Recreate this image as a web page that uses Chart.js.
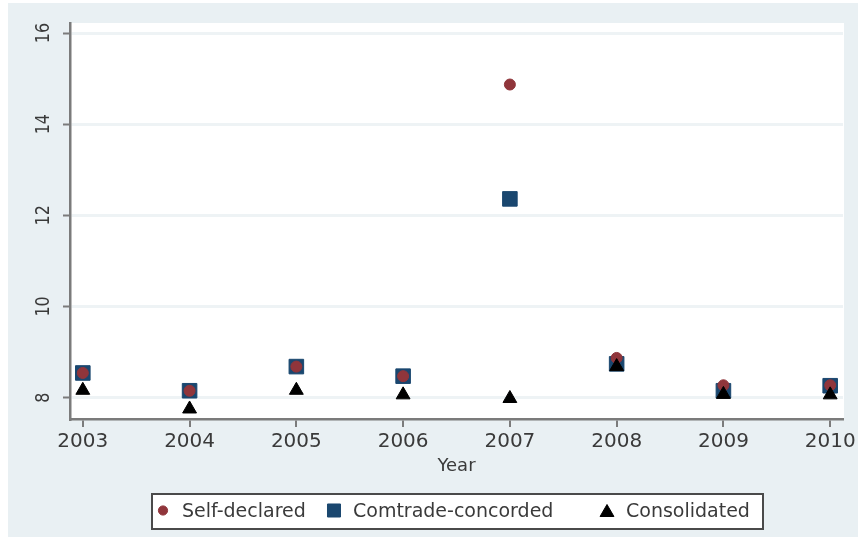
<!DOCTYPE html>
<html>
<head>
<meta charset="utf-8">
<script src="https://cdn.jsdelivr.net/npm/chart.js@4/dist/chart.umd.min.js"></script>
<style>
  html, body { margin: 0; padding: 0; background: #ffffff; }
  #wrap { width: 858px; height: 537px; position: relative; }
</style>
</head>
<body>
<div id="wrap"><canvas id="chart" width="858" height="537"></canvas></div>
<script>
// Years on the horizontal axis
const years = [2003, 2004, 2005, 2006, 2007, 2008, 2009, 2010];

// Average tariff by source
const selfDeclared      = [8.54, 8.15, 8.68, 8.47, 14.87, 8.87, 8.27, 8.27];
const comtradeConcorded = [8.54, 8.15, 8.68, 8.47, 12.36, 8.74, 8.15, 8.26];
const consolidated      = [8.16, 7.75, 8.16, 8.06, 7.98, 8.68, 8.07, 8.06];

// Labelled values on the vertical axis
const yTicks = [8, 10, 12, 14, 16];

const seriesLabels = ['Self-declared', 'Comtrade-concorded', 'Consolidated'];

const RED = '#90353b';
const NAVY = '#1a476f';
const TEXT = '#3a3a3a';
const AXIS = '#7b7b7b';
const FONT = '"DejaVu Sans", sans-serif';

const toPoints = vals => years.map((yr, i) => ({ x: yr, y: vals[i] }));

// Background panels, rotated y labels and the framed legend
const stataLook = {
  id: 'stataLook',
  beforeDraw(chart) {
    const { ctx, chartArea: a } = chart;
    ctx.save();
    ctx.fillStyle = '#e9f0f3';
    ctx.fillRect(8, 3, chart.width - 8, chart.height - 3);
    ctx.fillStyle = '#ffffff';
    ctx.fillRect(a.left, a.top, a.right - a.left + 1, a.bottom - a.top);
    ctx.restore();
  },
  afterDraw(chart) {
    const { ctx } = chart;
    const yScale = chart.scales.y;

    // y tick labels, read bottom to top
    ctx.save();
    ctx.fillStyle = TEXT;
    ctx.font = '20px ' + FONT;
    ctx.textAlign = 'center';
    ctx.textBaseline = 'middle';
    yScale.ticks.forEach(t => {
      const py = yScale.getPixelForValue(t.value);
      ctx.save();
      ctx.translate(44, py);
      ctx.rotate(-Math.PI / 2);
      ctx.scale(0.8, 1);
      ctx.fillText(String(t.value), 0, 0);
      ctx.restore();
    });
    ctx.restore();

    // legend frame
    const box = { left: 152, top: 494, right: 763, bottom: 529 };
    ctx.save();
    ctx.fillStyle = '#ffffff';
    ctx.fillRect(box.left, box.top, box.right - box.left, box.bottom - box.top);
    ctx.strokeStyle = '#4a4a4a';
    ctx.lineWidth = 2;
    ctx.strokeRect(box.left, box.top, box.right - box.left, box.bottom - box.top);

    const midY = (box.top + box.bottom) / 2;
    const markerX = [163, 334, 607];
    const legendStyles = [
      { style: 'circle', radius: 4.6, color: RED },
      { style: 'rect', radius: 9.2, color: NAVY },
      { style: 'triangle', radius: 8, color: '#000000' }
    ];
    chart.data.datasets.forEach((ds, i) => {
      const s = legendStyles[i];
      ctx.fillStyle = s.color;
      ctx.strokeStyle = s.color;
      ctx.lineWidth = 1;
      Chart.helpers.drawPoint(ctx, { pointStyle: s.style, radius: s.radius, borderWidth: 1 },
        markerX[i], s.style === 'triangle' ? midY + 1 : midY - 1);
      ctx.fillStyle = TEXT;
      ctx.font = '19px ' + FONT;
      ctx.textAlign = 'left';
      ctx.textBaseline = 'middle';
      ctx.fillText(ds.label, markerX[i] + 19, midY + 1);
    });
    ctx.restore();
  }
};

new Chart(document.getElementById('chart'), {
  type: 'scatter',
  data: {
    datasets: [
      {
        label: seriesLabels[0],
        data: toPoints(selfDeclared),
        pointStyle: 'circle',
        pointRadius: 5.5,
        backgroundColor: RED,
        borderColor: RED,
        borderWidth: 1,
        order: 1
      },
      {
        label: seriesLabels[1],
        data: toPoints(comtradeConcorded),
        pointStyle: 'rect',
        pointRadius: 10.3,
        backgroundColor: NAVY,
        borderColor: NAVY,
        borderWidth: 1,
        order: 2
      },
      {
        label: seriesLabels[2],
        data: toPoints(consolidated),
        pointStyle: 'triangle',
        pointRadius: 8,
        backgroundColor: '#000000',
        borderColor: '#000000',
        borderWidth: 1,
        order: 0
      }
    ]
  },
  options: {
    responsive: false,
    devicePixelRatio: 1,
    animation: false,
    layout: { padding: { left: 0, right: 15, top: 23, bottom: 0 } },
    plugins: {
      legend: { display: false },
      tooltip: { enabled: false }
    },
    scales: {
      x: {
        type: 'linear',
        min: 2002.88,
        max: 2010.12,
        afterBuildTicks: s => { s.ticks = years.map(v => ({ value: v })); },
        afterFit: s => { s.height = 118; s.paddingLeft = 0; s.paddingRight = 0; },
        ticks: {
          color: TEXT,
          font: { family: FONT, size: 20 },
          padding: 3,
          maxRotation: 0,
          callback: v => String(v)
        },
        grid: {
          drawOnChartArea: false,
          color: AXIS,
          lineWidth: 2,
          tickLength: 8
        },
        border: { color: AXIS, width: 2.5 },
        title: {
          display: true,
          text: 'Year',
          color: TEXT,
          font: { family: FONT, size: 18 },
          padding: { top: 0, bottom: 60 }
        }
      },
      y: {
        type: 'linear',
        min: 7.53,
        max: 16.22,
        afterBuildTicks: s => { s.ticks = yTicks.map(v => ({ value: v })); },
        afterFit: s => { s.width = 70; s.paddingTop = 0; s.paddingBottom = 0; },
        ticks: { display: false },
        grid: {
          color: '#eef3f5',
          lineWidth: 3,
          tickColor: AXIS,
          tickWidth: 2,
          tickLength: 7
        },
        border: { color: AXIS, width: 2.5 }
      }
    }
  },
  plugins: [stataLook]
});
</script>
</body>
</html>
